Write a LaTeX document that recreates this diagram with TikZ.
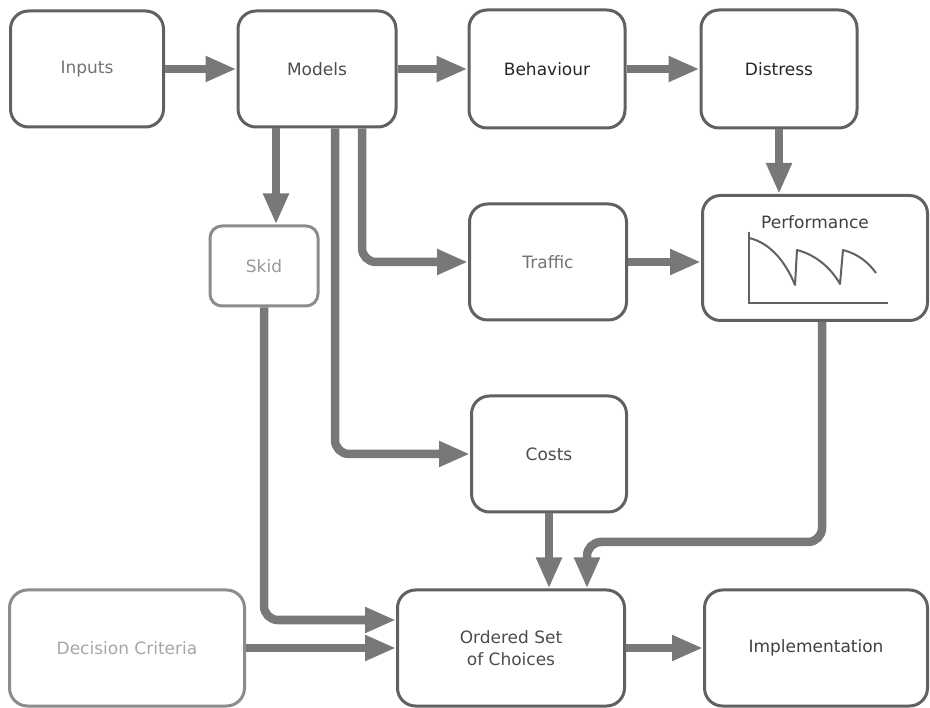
\documentclass[tikz,border=0pt]{standalone}
\usepackage{fontspec}
\setmainfont{DejaVu Sans}
\usetikzlibrary{arrows.meta}
\newcommand{\shaftwd}{8.5pt}
\newcommand{\boxrule}{3pt}
\newcommand{\boxfont}{\fontsize{17}{22}\selectfont}
\definecolor{rulegray}{gray}{0.38}
\definecolor{flowgray}{gray}{0.47}

\begin{document}
\begin{tikzpicture}[x=1pt,y=-1pt,
        box/.style={draw=rulegray, line width=\boxrule, rounded corners=18pt,
                    minimum width=156pt, minimum height=116pt, align=center,
                    font=\boxfont},
        flow/.style={draw=flowgray, line width=\shaftwd, rounded corners=14pt,
                     -{Triangle[length=31pt,width=24pt]}}]
        \useasboundingbox (0,0) rectangle (930,708);

        % top row
        \node (inputs) at (87,69) [box, minimum width=153pt, text=black!55] {Inputs};
        \node (models) at (317,69) [box, minimum width=158pt, text=black!70] {Models};
        \node (behaviour) at (547,69) [box, minimum height=118pt, text=black!85] {Behaviour};
        \node (distress) at (779,69) [box, minimum height=118pt, text=black!85] {Distress};

        % middle
        \node (skid) at (264,266) [box, minimum width=108pt, minimum height=80pt,
                rounded corners=12pt, draw=black!45, text=black!40] {Skid};
        \node (traffic) at (548,262) [box, minimum width=157pt, text=black!55] {Traffic};
        \node (perf) at (815,258) [box, minimum width=225pt, minimum height=125pt] {};
        \node (perftitle) at (815,222) [font=\boxfont, text=black!75] {Performance};
        \node (costs) at (549,454) [box, minimum width=155pt, text=black!70] {Costs};

        % bottom row
        \node (criteria) at (127,648) [box, minimum width=235pt, draw=black!45, text=black!35] {Decision Criteria};
        \node (ordered) at (511,648) [box, minimum width=227pt, text=black!70] {Ordered Set\\of Choices};
        \node (impl) at (816,648) [box, minimum width=223pt, text=black!75] {Implementation};

        % small chart inside the performance box
        \draw[rulegray, line width=1.4pt] (749,232) -- (749,303) -- (888,303);
        \draw[rulegray, line width=2pt, line join=round]
        (749,238) .. controls (771,243) and (786,263) .. (795,285)
        -- (797,250) .. controls (816,255) and (831,268) .. (840,284)
        -- (843,250) .. controls (858,254) and (868,262) .. (876,273);

        % flows
        \draw[flow] (inputs.east) -- (models.west);
        \draw[flow] (models.east) -- (behaviour.west);
        \draw[flow] (behaviour.east) -- (distress.west);
        \draw[flow] (distress.south) -- (distress.south |- perf.north);
        \draw[flow] ([xshift=-41pt]models.south) -- ([xshift=12pt]skid.north);
        \draw[flow] ([xshift=45pt]models.south) |- (traffic.west);
        \draw[flow] ([xshift=18pt]models.south) |- (costs.west);
        \draw[flow] (traffic.east) -- (traffic.east -| perf.west);
        \draw[flow] ([xshift=7pt]perf.south) -- ++(0,220) -| ([xshift=76pt]ordered.north);
        \draw[flow] (costs.south) -- (costs.south |- ordered.north);
        \draw[flow] (skid.south) |- ([yshift=28pt]ordered.west);
        \draw[flow] (criteria.east) -- (ordered.west);
        \draw[flow] (ordered.east) -- (impl.west);
      \end{tikzpicture}
\end{document}
